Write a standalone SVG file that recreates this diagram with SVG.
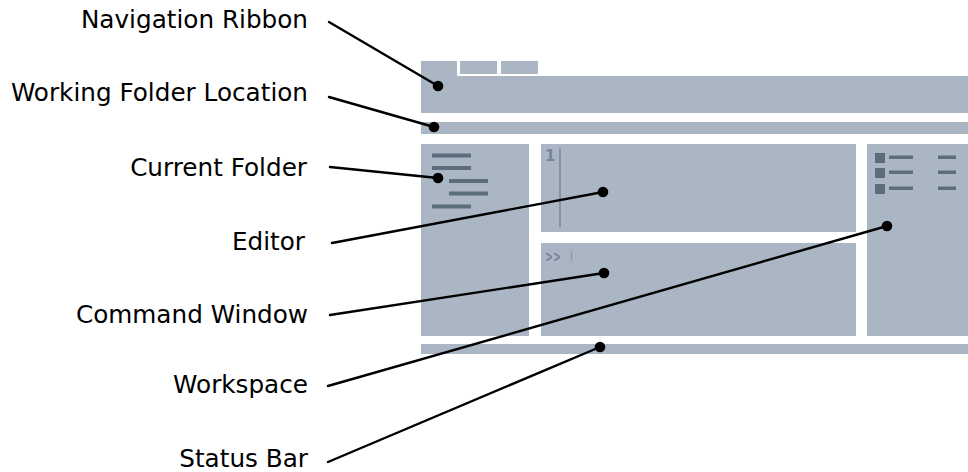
<svg xmlns="http://www.w3.org/2000/svg" width="968" height="472" viewBox="0 0 968 472">
  <defs>
    <style>
      .panel { fill: #abb6c5; }
      .mark { fill: #5b6c7b; }
      .label { font-family: "DejaVu Sans", Verdana, sans-serif; font-size: 24.7px; fill: #000; text-anchor: end; }
      .leader { stroke: #000; stroke-width: 2.4; fill: none; stroke-linecap: round; }
      .dot { fill: #000; }
    </style>
  </defs>
  <rect width="968" height="472" fill="#fff"/>

  <!-- Desktop layout panels -->
  <g id="navigation-ribbon">
    <rect class="panel" x="421" y="61" width="36" height="16"/>
    <rect class="panel" x="460" y="61" width="37" height="13"/>
    <rect class="panel" x="501" y="61" width="37" height="13"/>
    <rect class="panel" x="421" y="76" width="547" height="37"/>
  </g>
  <g id="working-folder-location">
    <rect class="panel" x="421" y="122" width="547" height="12"/>
  </g>
  <g id="current-folder">
    <rect class="panel" x="421" y="144" width="108" height="192"/>
    <rect class="mark" x="432" y="153.5" width="39" height="4"/>
    <rect class="mark" x="432" y="166" width="39" height="4"/>
    <rect class="mark" x="449" y="179" width="39" height="4"/>
    <rect class="mark" x="449" y="191.5" width="39" height="4"/>
    <rect class="mark" x="432" y="204.5" width="39" height="4"/>
  </g>
  <g id="editor">
    <rect class="panel" x="541" y="144" width="315" height="88"/>
    <text x="545" y="161" font-family="DejaVu Sans, sans-serif" font-size="15" font-weight="bold" fill="#74859a">1</text>
    <line x1="560" y1="148" x2="560" y2="227" stroke="#74859a" stroke-width="1.4"/>
  </g>
  <g id="command-window">
    <rect class="panel" x="541" y="243" width="315" height="93"/>
    <text x="545" y="262" font-family="DejaVu Sans, sans-serif" font-size="15" font-weight="bold" textLength="16" lengthAdjust="spacingAndGlyphs" fill="#74859a">&gt;&gt;</text>
    <line x1="571.5" y1="251" x2="571.5" y2="261" stroke="#8a98a8" stroke-width="1.3"/>
  </g>
  <g id="workspace">
    <rect class="panel" x="867" y="144" width="101" height="192"/>
    <rect class="mark" x="875" y="153" width="10" height="10"/>
    <rect class="mark" x="875" y="168" width="10" height="10"/>
    <rect class="mark" x="875" y="184" width="10" height="10"/>
    <rect class="mark" x="889" y="155.5" width="24" height="3.5"/>
    <rect class="mark" x="889" y="170.5" width="24" height="3.5"/>
    <rect class="mark" x="889" y="186.5" width="24" height="3.5"/>
    <rect class="mark" x="938" y="155.5" width="18" height="3.5"/>
    <rect class="mark" x="938" y="170.5" width="18" height="3.5"/>
    <rect class="mark" x="938" y="186.5" width="18" height="3.5"/>
  </g>
  <g id="status-bar">
    <rect class="panel" x="421" y="344" width="547" height="10"/>
  </g>

  <!-- Labels -->
  <g id="labels">
    <text class="label" x="308" y="28">Navigation Ribbon</text>
    <text class="label" x="308" y="101">Working Folder Location</text>
    <text class="label" x="307" y="176">Current Folder</text>
    <text class="label" x="305" y="250">Editor</text>
    <text class="label" x="308" y="323">Command Window</text>
    <text class="label" x="308" y="393">Workspace</text>
    <text class="label" x="308" y="467">Status Bar</text>
  </g>

  <!-- Leader lines with end dots -->
  <g id="connectors">
    <line class="leader" x1="329" y1="22" x2="438" y2="86"/>
    <circle class="dot" cx="438" cy="86" r="5.3"/>
    <line class="leader" x1="329" y1="97" x2="434" y2="127"/>
    <circle class="dot" cx="434" cy="127" r="5.3"/>
    <line class="leader" x1="330" y1="167" x2="438" y2="178"/>
    <circle class="dot" cx="438" cy="178" r="5.3"/>
    <line class="leader" x1="332" y1="243" x2="603" y2="192"/>
    <circle class="dot" cx="603" cy="192" r="5.3"/>
    <line class="leader" x1="330" y1="315" x2="604" y2="273"/>
    <circle class="dot" cx="604" cy="273" r="5.3"/>
    <line class="leader" x1="328" y1="386" x2="887" y2="226"/>
    <circle class="dot" cx="887" cy="226" r="5.3"/>
    <line class="leader" x1="328" y1="462" x2="600" y2="347"/>
    <circle class="dot" cx="600" cy="347" r="5.3"/>
  </g>
</svg>
